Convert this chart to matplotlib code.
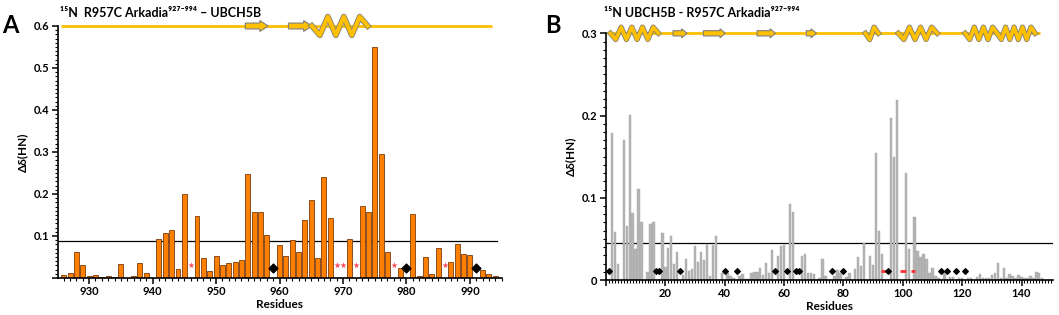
import numpy as np
import matplotlib
matplotlib.use('Agg')
import matplotlib.pyplot as plt
from matplotlib.patches import Polygon
from matplotlib.ticker import MultipleLocator, FuncFormatter

plt.rcParams['font.family'] = ['Lato', 'DejaVu Sans']
plt.rcParams['font.weight'] = 'bold'

# ---- panel A: 15N R957C Arkadia(927-994) + UBCH5B ----
res_a = [926, 927, 928, 929, 930, 931, 932, 933, 934, 935, 937, 938, 939,
         941, 942, 943, 944, 945, 947, 948, 949, 950, 951, 952, 953, 954,
         955, 956, 957, 958, 960, 961, 962, 963, 964, 965, 966, 967, 968,
         971, 973, 974, 975, 976, 977, 979, 981, 982, 983, 984, 985, 987,
         988, 989, 990, 992, 993, 994]
shift_a = [0.007, 0.012, 0.063, 0.032, 0.004, 0.007, 0.002, 0.004, 0.002, 0.034,
           0.004, 0.036, 0.011,
           0.094, 0.108, 0.114, 0.022, 0.200, 0.148, 0.048, 0.017, 0.053, 0.031,
           0.035, 0.037, 0.044,
           0.247, 0.156, 0.156, 0.102, 0.079, 0.052, 0.090, 0.063, 0.138, 0.185,
           0.048, 0.240, 0.143,
           0.093, 0.171, 0.156, 0.550, 0.295, 0.062, 0.024, 0.152, 0.005, 0.050,
           0.010, 0.071, 0.037,
           0.081, 0.057, 0.054, 0.020, 0.010, 0.005]
star_a = [946, 969, 970, 972, 978, 986]
diamond_a = [959, 980, 991]
cutoff_a = 0.088
strands_a = [(954.6, 958.2), (961.4, 965.1)]
helices_a = [(965.1, 973.9, 3)]

# ---- panel B: 15N UBCH5B + R957C Arkadia(927-994) ----
res_b = [2, 3, 4, 6, 7, 8, 9, 10, 11, 12, 14, 15, 16, 19, 20, 21, 22, 23, 24,
         26, 27, 28, 29, 30, 31, 32, 33, 34, 35, 36, 37, 39, 41, 42, 43, 45, 46,
         47, 48, 49, 50, 51, 52, 53, 54, 55, 56, 58, 59, 60, 62, 63, 66, 67, 68,
         69, 70, 72, 73, 74, 77, 78, 79, 81, 82, 84, 85, 86, 87, 89, 90, 91, 92,
         93, 96, 97, 98, 101, 102, 104, 105, 106, 107, 108, 109, 110, 111, 112,
         114, 116, 117, 119, 120, 122, 123, 125, 126, 127, 128, 129, 130, 131,
         132, 133, 134, 135, 136, 137, 138, 139, 140, 141, 142, 143, 144, 145,
         146, 147]
shift_b = [0.179, 0.058, 0.019, 0.170, 0.066, 0.201, 0.081, 0.038, 0.111, 0.070,
           0.010, 0.068, 0.070, 0.057, 0.016, 0.039, 0.053, 0.020, 0.034,
           0.006, 0.026, 0.011, 0.013, 0.041, 0.022, 0.034, 0.024, 0.044, 0.005,
           0.043, 0.053, 0.008, 0.009, 0.005, 0.002, 0.005, 0.007,
           0.001, 0.001, 0.009, 0.010, 0.010, 0.015, 0.006, 0.021, 0.009, 0.036,
           0.029, 0.041, 0.042, 0.092, 0.083, 0.029, 0.032, 0.009,
           0.009, 0.007, 0.003, 0.026, 0.005, 0.005, 0.012, 0.009, 0.004, 0.008,
           0.013, 0.028, 0.017, 0.045, 0.029, 0.018, 0.155, 0.060,
           0.032, 0.197, 0.150, 0.219, 0.130, 0.038, 0.077, 0.035, 0.028, 0.032,
           0.026, 0.009, 0.015, 0.005, 0.002,
           0.010, 0.004, 0.004, 0.003, 0.002, 0.003, 0.003, 0.004, 0.007, 0.003,
           0.003, 0.002, 0.006, 0.008,
           0.021, 0.003, 0.014, 0.002, 0.007, 0.005, 0.003, 0.006, 0.004, 0.003,
           0.002, 0.005, 0.002, 0.010,
           0.008, 0.002]
diamond_b = [1, 17, 18, 25, 40, 44, 57, 61, 64, 65, 76, 80, 95, 113, 115, 118, 121]
red_b = [(92.8, 95.0), (99.2, 101.2), (102.7, 104.0)]
cutoff_b = 0.045
strands_b = [(22.6, 27.3), (32.8, 40.2), (50.9, 57.1), (67.5, 70.9)]
helices_b = [(1.5, 17.7, 4), (87.4, 91.8, 1), (98.5, 111.6, 3), (121.0, 131.8, 3), (131.8, 144.6, 4)]

GOLD = '#ffc000'
EDGE = '#7f7f7f'


def draw_topology(ax, y0, x0, x1, strands, helices, amp, shaft, head, head_len, hw):
    ax.plot([x0, x1], [y0, y0], color=GOLD, lw=2, clip_on=False, zorder=5,
            solid_capstyle='butt')
    for (a, b) in strands:
        pts = [(a, y0 - shaft), (b - head_len, y0 - shaft), (b - head_len, y0 - head),
               (b, y0), (b - head_len, y0 + head), (b - head_len, y0 + shaft), (a, y0 + shaft)]
        ax.add_patch(Polygon(pts, closed=True, facecolor=GOLD, edgecolor=EDGE, lw=0.8,
                             clip_on=False, zorder=6))
    for (a, b, n) in helices:
        xs = np.linspace(a, b, 2 * n + 2)
        ys = [y0] + [y0 - amp if i % 2 == 0 else y0 + amp for i in range(2 * n)] + [y0]
        ax.plot(xs, ys, color=EDGE, lw=hw + 1.2, clip_on=False, zorder=6)
        ax.plot(xs, ys, color=GOLD, lw=hw, clip_on=False, zorder=7)


def style_axes(ax):
    for side in ['top', 'right']:
        ax.spines[side].set_visible(False)
    for side in ['left', 'bottom']:
        ax.spines[side].set_linewidth(1.2)
    ax.tick_params(which='major', length=4, width=1.1, labelsize=8, pad=2)
    ax.tick_params(which='minor', length=2.5, width=0.8)
    for lab in ax.get_xticklabels() + ax.get_yticklabels():
        lab.set_fontweight('bold')


fig = plt.figure(figsize=(10.59, 3.15), dpi=100)

# panel A
ax1 = fig.add_axes([0.0548, 0.1175, 0.4189, 0.80])
ax1.bar(res_a, shift_a, width=0.78, color='#ff8000', edgecolor='#7a3c10', linewidth=0.6, zorder=2)
ax1.scatter(star_a, [0.030] * len(star_a), marker='*', s=22, color='#ff4b5c', zorder=3, linewidths=0)
ax1.scatter(diamond_a, [0.023] * len(diamond_a), marker='D', s=20, color='black', zorder=3)
ax1.axhline(cutoff_a, xmin=0, xmax=0.99, color='black', lw=0.9, zorder=1)
ax1.set_xlim(925.1, 995.0)
ax1.set_ylim(0, 0.6)
ax1.xaxis.set_major_locator(MultipleLocator(10))
ax1.xaxis.set_minor_locator(MultipleLocator(1))
ax1.yaxis.set_major_locator(MultipleLocator(0.1))
ax1.yaxis.set_minor_locator(MultipleLocator(0.01))
ax1.yaxis.set_major_formatter(FuncFormatter(lambda v, p: '' if abs(v) < 1e-9 else '%.1f' % v))
style_axes(ax1)
ax1.set_xlabel('Residues', fontsize=8.5, fontweight='bold', labelpad=1)
ax1.set_ylabel('Δδ(HN)', fontsize=8.5, fontweight='bold', labelpad=4)
draw_topology(ax1, 0.6, 925.5, 993.5, strands_a, helices_a, amp=0.022,
              shaft=0.007, head=0.013, head_len=1.3, hw=3.0)

# panel B
ax2 = fig.add_axes([0.5722, 0.1111, 0.4221, 0.7832])
ax2.bar(res_b, shift_b, width=0.8, color='#b4b4b4', edgecolor='#a6a6a6', linewidth=0.3, zorder=2)
for (a, b) in red_b:
    ax2.plot([a, b], [0.0115, 0.0115], color='#ff3030', lw=2.0, zorder=3, solid_capstyle='butt')
ax2.scatter(diamond_b, [0.0105] * len(diamond_b), marker='D', s=8, color='black', zorder=4)
ax2.axhline(cutoff_b, color='black', lw=0.9, zorder=1)
ax2.set_xlim(0, 150.6)
ax2.set_ylim(0, 0.3)
ax2.xaxis.set_major_locator(MultipleLocator(20))
ax2.xaxis.set_minor_locator(MultipleLocator(1))
ax2.yaxis.set_major_locator(MultipleLocator(0.1))
ax2.yaxis.set_minor_locator(MultipleLocator(0.01))
ax2.xaxis.set_major_formatter(FuncFormatter(lambda v, p: '' if abs(v) < 1e-9 else '%d' % v))
ax2.yaxis.set_major_formatter(FuncFormatter(lambda v, p: '0' if abs(v) < 1e-9 else '%.1f' % v))
style_axes(ax2)
ax2.set_xlabel('Residues', fontsize=8.5, fontweight='bold', labelpad=1)
ax2.set_ylabel('Δδ(HN)', fontsize=8.5, fontweight='bold', labelpad=4)
draw_topology(ax2, 0.3, 0.5, 146.3, strands_b, helices_b, amp=0.0075,
              shaft=0.0032, head=0.0055, head_len=1.8, hw=2.6)

# titles and panel letters
fig.text(0.002, 0.955, 'A', fontsize=17, fontweight='bold', va='top')
fig.text(0.515, 0.955, 'B', fontsize=17, fontweight='bold', va='top')
fig.text(0.057, 0.945, '¹⁵N  R957C Arkadia⁹²⁷⁻⁹⁹⁴ – UBCH5B', fontsize=9, fontweight='bold')
fig.text(0.570, 0.945, '¹⁵N UBCH5B - R957C Arkadia⁹²⁷⁻⁹⁹⁴', fontsize=9, fontweight='bold')

fig.savefig('out.png', dpi=100)
